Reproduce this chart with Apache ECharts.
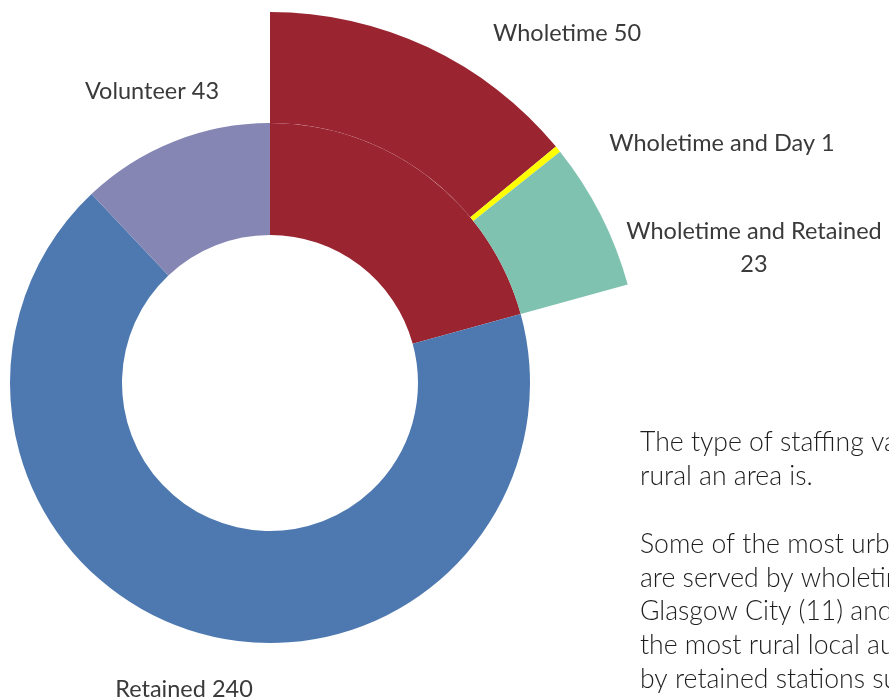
<!DOCTYPE html>
<html>
<head>
<meta charset="utf-8">
<script src="https://cdn.jsdelivr.net/npm/echarts@6/dist/echarts.min.js"></script>
<style>
  html, body { margin: 0; padding: 0; background: #ffffff; overflow: hidden; }
  #chart { width: 889px; height: 700px; }
</style>
</head>
<body>
<div id="chart"></div>
<script>
// Stations by staffing type
const wholetimeNames  = ['Wholetime', 'Wholetime and Day', 'Wholetime and Retained'];
const wholetimeValues = [50, 1, 23];
const otherNames      = ['Retained', 'Volunteer'];
const otherValues     = [240, 43];

const wholetimeColors = ['#9A2430', '#FFFF00', '#80C2B0'];
const otherColors     = ['#4E79B0', '#8586B4'];
const groupColor      = '#9A2430';

// Where each label sits on the page (label centres)
const outerLabelPos = [[567, 33], [722, 143], [754, 248]];
const innerLabelPos = { 1: [184, 689], 2: [152, 91] };

const wholetimeTotal = wholetimeValues.reduce((a, b) => a + b, 0);
const otherTotal = otherValues.reduce((a, b) => a + b, 0);

const labelFont = {
  fontFamily: 'Lato, "Open Sans", sans-serif',
  fontSize: 23.5,
  color: '#3a3a3a',
  lineHeight: 33
};

const innerData = [{ name: 'Wholetime (all)', value: wholetimeTotal, itemStyle: { color: groupColor }, label: { show: false } }]
  .concat(otherNames.map((n, i) => ({ name: n, value: otherValues[i], itemStyle: { color: otherColors[i] } })));

const outerData = wholetimeNames.map((n, i) => ({ name: n, value: wholetimeValues[i], itemStyle: { color: wholetimeColors[i] } }))
  .concat([{ name: '', value: otherTotal, itemStyle: { color: 'rgba(0,0,0,0)' }, label: { show: false }, emphasis: { disabled: true } }]);

const chart = echarts.init(document.getElementById('chart'), null, { renderer: 'canvas' });

chart.setOption({
  animation: false,
  backgroundColor: '#ffffff',
  series: [
    {
      type: 'pie',
      center: [270, 383],
      radius: [148, 260],
      startAngle: 90,
      clockwise: true,
      avoidLabelOverlap: false,
      silent: true,
      data: innerData,
      label: Object.assign({ show: true, formatter: '{b} {c}' }, labelFont),
      labelLine: { show: false },
      labelLayout: function (p) {
        const pos = innerLabelPos[p.dataIndex];
        if (!pos) return {};
        return { x: pos[0], y: pos[1], align: 'center', verticalAlign: 'middle' };
      }
    },
    {
      type: 'pie',
      center: [270, 383],
      radius: [260, 371],
      startAngle: 90,
      clockwise: true,
      avoidLabelOverlap: false,
      silent: true,
      data: outerData,
      label: Object.assign({
        show: true,
        align: 'center',
        formatter: function (p) {
          return p.dataIndex === 2 ? p.name + '\n' + p.value : p.name + ' ' + p.value;
        }
      }, labelFont),
      labelLine: { show: false },
      labelLayout: function (p) {
        const pos = outerLabelPos[p.dataIndex];
        if (!pos) return {};
        return { x: pos[0], y: pos[1], align: 'center', verticalAlign: 'middle' };
      }
    }
  ],
  graphic: [
    {
      type: 'text',
      left: 640,
      top: 426,
      silent: true,
      style: {
        text: 'The type of staffing varies with how\nrural an area is.\n\nSome of the most urban areas\nare served by wholetime stations,\nGlasgow City (11) and others, while\nthe most rural local authorities are served\nby retained stations such as these.',
        font: '300 26.6px Lato, "Open Sans", sans-serif',
        fill: '#1e1e1e',
        lineHeight: 33.8
      }
    }
  ]
});
</script>
</body>
</html>
